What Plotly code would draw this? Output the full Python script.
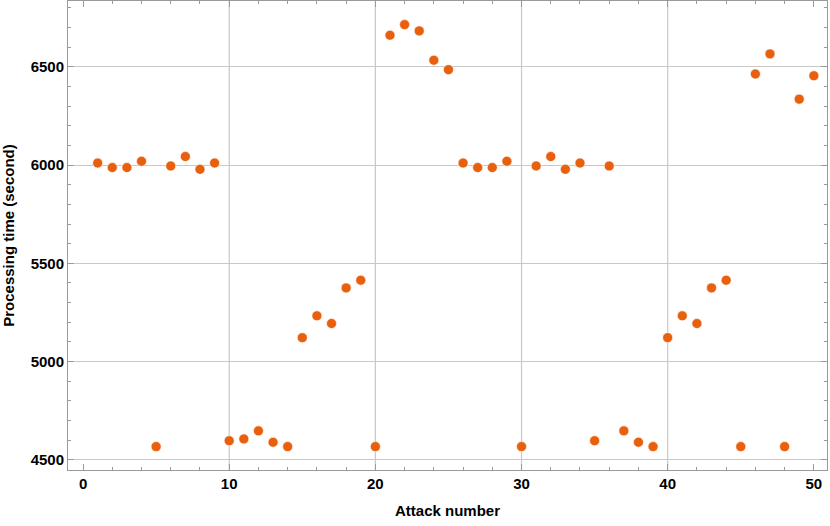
import plotly.graph_objects as go

attack = list(range(1, 51))
proc_time = [
    6010, 5987, 5987, 6019, 4568, 5995, 6043, 5978, 6010, 4598,
    4607, 4648, 4590, 4568, 5122, 5233, 5194, 5375, 5414, 4568,
    6660, 6714, 6682, 6533, 6485, 6010, 5987, 5987, 6019, 4568,
    5995, 6043, 5978, 6010, 4598, 5995, 4648, 4590, 4568, 5122,
    5233, 5194, 5375, 5414, 4568, 6463, 6565, 4568, 6335, 6454,
]
x_grid = [10, 20, 30, 40]

DOT = "#E8600E"
FRAME = "#9a9a9a"
GRID = "#c8c8c8"
FONT = dict(family="Liberation Sans, Arial", size=15, color="black", weight="bold")

fig = go.Figure()
fig.add_trace(go.Scatter(
    x=attack, y=proc_time, mode="markers",
    marker=dict(color=DOT, size=10, line=dict(color="white", width=0.6)),
    showlegend=False,
))

for gx in x_grid:
    fig.add_vline(x=gx, line=dict(color=GRID, width=1.2), layer="below")

axis_common = dict(
    showline=True, linecolor=FRAME, linewidth=1, mirror="allticks",
    ticks="inside", ticklen=6, tickcolor=FRAME, tickwidth=1,
    zeroline=False, automargin=False,
    tickfont=FONT, title_font=FONT,
)

fig.update_xaxes(
    **axis_common,
    range=[-1.03, 50.9], tickvals=[0, 10, 20, 30, 40, 50], showgrid=False,
    minor=dict(dtick=2, tick0=0, ticks="inside", ticklen=3, tickcolor=FRAME, showgrid=False),
    title=dict(text="Attack number", standoff=14),
)
fig.update_yaxes(
    **axis_common,
    range=[4449, 6834], tickvals=[4500, 5000, 5500, 6000, 6500],
    showgrid=True, gridcolor=GRID, gridwidth=1.2,
    minor=dict(dtick=100, tick0=4500, ticks="inside", ticklen=3, tickcolor=FRAME, showgrid=False),
    title=dict(text="Processing time (second)", standoff=12),
)

fig.update_layout(
    width=830, height=526,
    margin=dict(l=68, r=3, t=1, b=56),
    plot_bgcolor="white", paper_bgcolor="white",
)

# the page body has a default 8px margin; drop it so the figure sits at 0,0
fig.write_html(
    "out.html",
    config={"displayModeBar": False},
    post_script="document.body.style.margin='0';",
)
